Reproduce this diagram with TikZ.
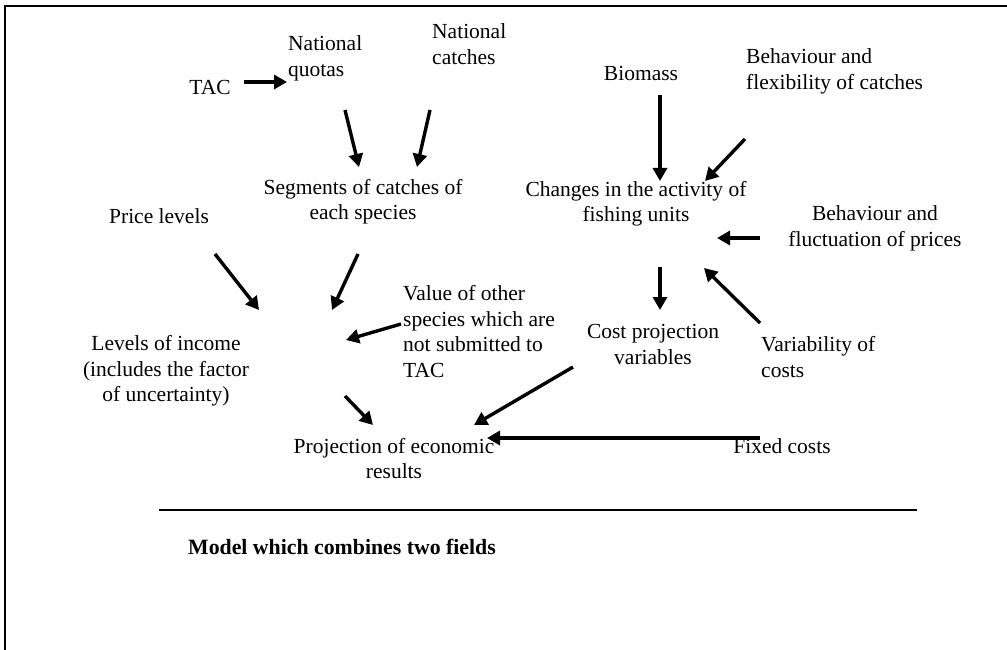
\documentclass[tikz,border=0pt]{standalone}
\usepackage{fontspec}
\setmainfont{Liberation Serif}
\usetikzlibrary{arrows.meta}
\begin{document}
\begin{tikzpicture}[x=1pt,y=-1pt,
  lbl/.style={inner sep=0pt,font=\fontsize{21.5}{25.5}\selectfont,align=center},
  lbll/.style={lbl,align=left,anchor=west},
  arr/.style={line width=3.4pt,-{Triangle[length=13pt,width=14pt]}},
  frame/.style={line width=2pt}]
\useasboundingbox (0,0) rectangle (1007,650);
% frame
\draw[frame] (5,650) -- (5,6) -- (1007,6);
% nodes
\node[lbl] (tac) at (210,87) {TAC};
\node[lbll] (quotas) at (288,58.5) {National\\quotas};
\node[lbll] (catches) at (432,44) {National\\catches};
\node[lbl] (biomass) at (641,73) {Biomass};
\node[lbll] (behflex) at (746,71.5) {Behaviour and\\flexibility of catches};
\node[lbl] (segments) at (363,201.5) {Segments of catches of\\each species};
\node[lbl] (changes) at (636,204) {Changes in the activity of\\fishing units};
\node[lbl] (price) at (159,216) {Price levels};
\node[lbl] (behfluct) at (875,228.5) {Behaviour and\\fluctuation of prices};
\node[lbll] (value) at (403,331.5) {Value of other\\species which are\\not submitted to\\TAC};
\node[lbl] (costproj) at (653,344.5) {Cost projection\\variables};
\node[lbll] (variab) at (761,357) {Variability of\\costs};
\node[lbl] (income) at (166,371) {Levels of income\\(includes the factor\\of uncertainty)};
\node[lbl] (projection) at (394,458.5) {Projection of economic\\results};
\node[lbl] (fixed) at (782,446) {Fixed costs};
\node[lbll,font=\fontsize{21.8}{25.5}\selectfont\bfseries] (model) at (188,547) {Model which combines two fields};
% arrow end points
\coordinate (a1s) at (244,82);  \coordinate (a1e) at (287,82);
\coordinate (a2s) at (345,110); \coordinate (a2e) at (359,167);
\coordinate (a3s) at (430,110); \coordinate (a3e) at (417,167);
\coordinate (a4s) at (660,95);  \coordinate (a4e) at (660,181);
\coordinate (a5s) at (745,139); \coordinate (a5e) at (705,181);
\coordinate (a6s) at (760,238); \coordinate (a6e) at (717,238);
\coordinate (a7s) at (215,254); \coordinate (a7e) at (259,310);
\coordinate (a8s) at (358,254); \coordinate (a8e) at (332,310);
\coordinate (a9s) at (401,324); \coordinate (a9e) at (346,340);
\coordinate (a10s) at (660,267); \coordinate (a10e) at (660,310);
\coordinate (a11s) at (760,323); \coordinate (a11e) at (704,268);
\coordinate (a12s) at (345,396); \coordinate (a12e) at (373,425);
\coordinate (a13s) at (573,367); \coordinate (a13e) at (474,425);
\coordinate (a14s) at (760,438); \coordinate (a14e) at (487,438);
% arrows
\draw[arr] (a1s) -- (a1e);
\draw[arr] (a2s) -- (a2e);
\draw[arr] (a3s) -- (a3e);
\draw[arr] (a4s) -- (a4e);
\draw[arr] (a5s) -- (a5e);
\draw[arr] (a6s) -- (a6e);
\draw[arr] (a7s) -- (a7e);
\draw[arr] (a8s) -- (a8e);
\draw[arr] (a9s) -- (a9e);
\draw[arr] (a10s) -- (a10e);
\draw[arr] (a11s) -- (a11e);
\draw[arr] (a12s) -- (a12e);
\draw[arr] (a13s) -- (a13e);
\draw[arr] (a14s) -- (a14e);
% separator
\coordinate (sepl) at (159,510); \coordinate (sepr) at (917,510);
\draw[line width=2pt] (sepl) -- (sepr);
\end{tikzpicture}
\end{document}
